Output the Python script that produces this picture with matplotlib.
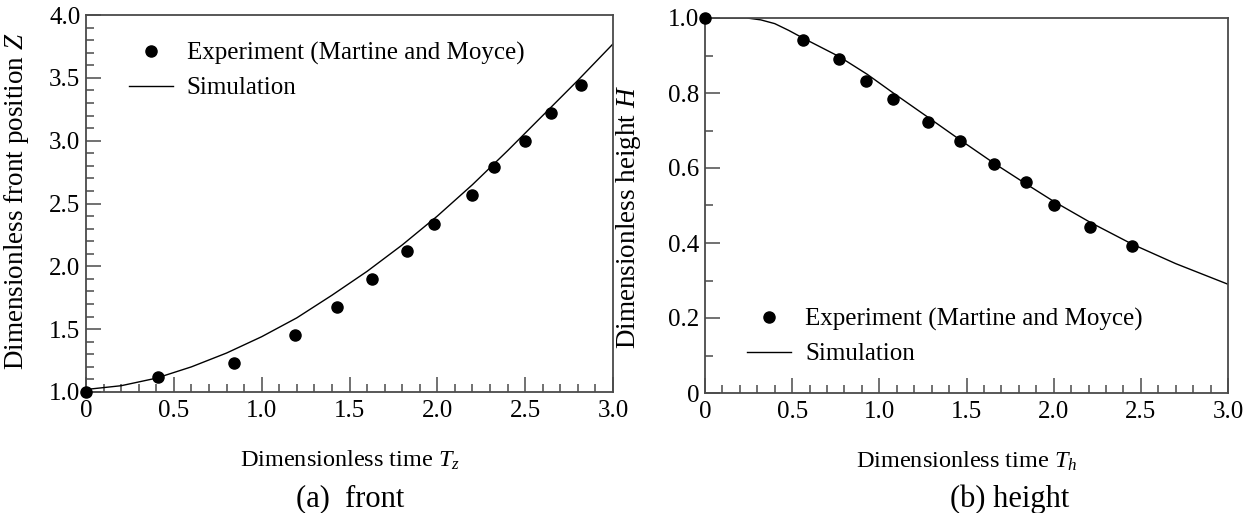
import numpy as np
import matplotlib
matplotlib.use("Agg")
import matplotlib.pyplot as plt
from matplotlib.ticker import MultipleLocator, FixedFormatter, FixedLocator

plt.rcParams['font.family'] = ['Liberation Serif', 'DejaVu Serif']
plt.rcParams['mathtext.fontset'] = 'custom'
plt.rcParams['mathtext.rm'] = 'Liberation Serif'
plt.rcParams['mathtext.it'] = 'Liberation Serif:italic'

# ---------------------------------------------------------------------------
# Datos
# ---------------------------------------------------------------------------
# (a) posicion del frente
tz_exp = [0.0, 0.41, 0.84, 1.19, 1.43, 1.63, 1.83, 1.98, 2.20, 2.32, 2.50, 2.645, 2.82]
z_exp = [1.00, 1.12, 1.23, 1.45, 1.68, 1.90, 2.12, 2.34, 2.57, 2.79, 3.00, 3.22, 3.44]

tz_sim = [0.0, 0.2, 0.4, 0.6, 0.8, 1.0, 1.2, 1.4, 1.6, 1.8, 2.0, 2.2, 2.4, 2.6, 2.8, 3.0]
z_sim = [1.02, 1.05, 1.11, 1.20, 1.31, 1.44, 1.59, 1.77, 1.96, 2.17, 2.40, 2.65, 2.92, 3.20, 3.48, 3.77]

# (b) altura de la columna
th_exp = [0.0, 0.56, 0.77, 0.925, 1.08, 1.28, 1.46, 1.66, 1.84, 2.0, 2.21, 2.45]
h_exp = [1.00, 0.942, 0.892, 0.833, 0.784, 0.722, 0.672, 0.612, 0.562, 0.502, 0.442, 0.393]

th_sim = [0.0, 0.24, 0.32, 0.4, 0.48, 0.56, 0.77, 0.93, 1.08, 1.28, 1.46, 1.66,
          1.84, 2.0, 2.21, 2.45, 2.7, 3.0]
h_sim = [1.0, 1.0, 0.995, 0.985, 0.967, 0.947, 0.897, 0.850, 0.800, 0.735, 0.676,
         0.612, 0.558, 0.511, 0.455, 0.397, 0.345, 0.290]

LBL_EXP = "Experiment (Martine and Moyce)"
LBL_SIM = "Simulation"

COLOR_EJES = "#4a4a4a"
FS_TICK = 18
FS_LEG = 18
FS_LABEL = 17.5
FS_YLABEL = 19.5
FS_CAP = 22

fig = plt.figure(figsize=(12.58, 5.13), dpi=100)
ax_a = fig.add_axes([86 / 1258, 1 - 392 / 513, 527 / 1258, 377 / 513])
ax_b = fig.add_axes([705 / 1258, 1 - 393 / 513, 523 / 1258, 375 / 513])


def estilo_ejes(ax):
    for s in ax.spines.values():
        s.set_color(COLOR_EJES)
        s.set_linewidth(1.3)
    ax.tick_params(which="both", direction="in", color=COLOR_EJES,
                   top=False, right=False, labelsize=FS_TICK, width=1.1)
    ax.tick_params(which="major", length=11, pad=6)
    ax.tick_params(which="minor", length=6)
    ax.tick_params(axis="y", which="major", pad=4)


def leyenda(ax, y_ancla):
    h, l = ax.get_legend_handles_labels()
    ax.legend([h[1], h[0]], [l[1], l[0]], loc="upper left",
              bbox_to_anchor=(0.081, y_ancla), frameon=False, fontsize=FS_LEG,
              borderpad=0, borderaxespad=0, handlelength=1.76,
              handletextpad=0.56, labelspacing=0.48)


# --- (a) front ---
ax_a.plot(tz_sim, z_sim, color="black", lw=1.0, label=LBL_SIM, zorder=2)
ax_a.plot(tz_exp, z_exp, "o", color="black", ms=8, label=LBL_EXP,
          clip_on=False, zorder=3)
ax_a.set_xlim(0, 3.0)
ax_a.set_ylim(1.0, 4.0)
ax_a.xaxis.set_major_locator(FixedLocator([0, 0.5, 1.0, 1.5, 2.0, 2.5, 3.0]))
ax_a.xaxis.set_major_formatter(FixedFormatter(["0", "0.5", "1.0", "1.5", "2.0", "2.5", "3.0"]))
ax_a.xaxis.set_minor_locator(MultipleLocator(0.1))
ax_a.yaxis.set_major_locator(MultipleLocator(0.5))
ax_a.yaxis.set_minor_locator(MultipleLocator(0.1))
ax_a.yaxis.set_major_formatter(matplotlib.ticker.FormatStrFormatter("%.1f"))
estilo_ejes(ax_a)
ax_a.set_xlabel(r"Dimensionless time $T_z$", fontsize=FS_LABEL)
ax_a.set_ylabel(r"Dimensionless front position $Z$", fontsize=FS_YLABEL)
ax_a.xaxis.set_label_coords(0.5, -0.15)
ax_a.yaxis.set_label_coords(-0.105, 0.505)
leyenda(ax_a, 0.929)

# --- (b) height ---
ax_b.plot(th_sim, h_sim, color="black", lw=1.0, label=LBL_SIM, zorder=2)
ax_b.plot(th_exp, h_exp, "o", color="black", ms=8, label=LBL_EXP,
          clip_on=False, zorder=3)
ax_b.set_xlim(0, 3.0)
ax_b.set_ylim(0, 1.0)
ax_b.xaxis.set_major_locator(FixedLocator([0, 0.5, 1.0, 1.5, 2.0, 2.5, 3.0]))
ax_b.xaxis.set_major_formatter(FixedFormatter(["0", "0.5", "1.0", "1.5", "2.0", "2.5", "3.0"]))
ax_b.xaxis.set_minor_locator(MultipleLocator(0.1))
ax_b.yaxis.set_major_locator(FixedLocator([0, 0.2, 0.4, 0.6, 0.8, 1.0]))
ax_b.yaxis.set_major_formatter(FixedFormatter(["0", "0.2", "0.4", "0.6", "0.8", "1.0"]))
ax_b.yaxis.set_minor_locator(MultipleLocator(0.1))
estilo_ejes(ax_b)
ax_b.set_xlabel(r"Dimensionless time $T_h$", fontsize=FS_LABEL)
ax_b.set_ylabel(r"Dimensionless height $H$", fontsize=FS_YLABEL)
ax_b.xaxis.set_label_coords(0.5, -0.15)
ax_b.yaxis.set_label_coords(-0.119, 0.47)
leyenda(ax_b, 0.227)

# rotulos de cada panel
fig.text(350 / 1258, 1 - 499 / 513, "(a)  front", fontsize=FS_CAP,
         ha="center", va="center")
fig.text(1010 / 1258, 1 - 499 / 513, "(b) height", fontsize=FS_CAP,
         ha="center", va="center")

fig.savefig("out.png", dpi=100)
